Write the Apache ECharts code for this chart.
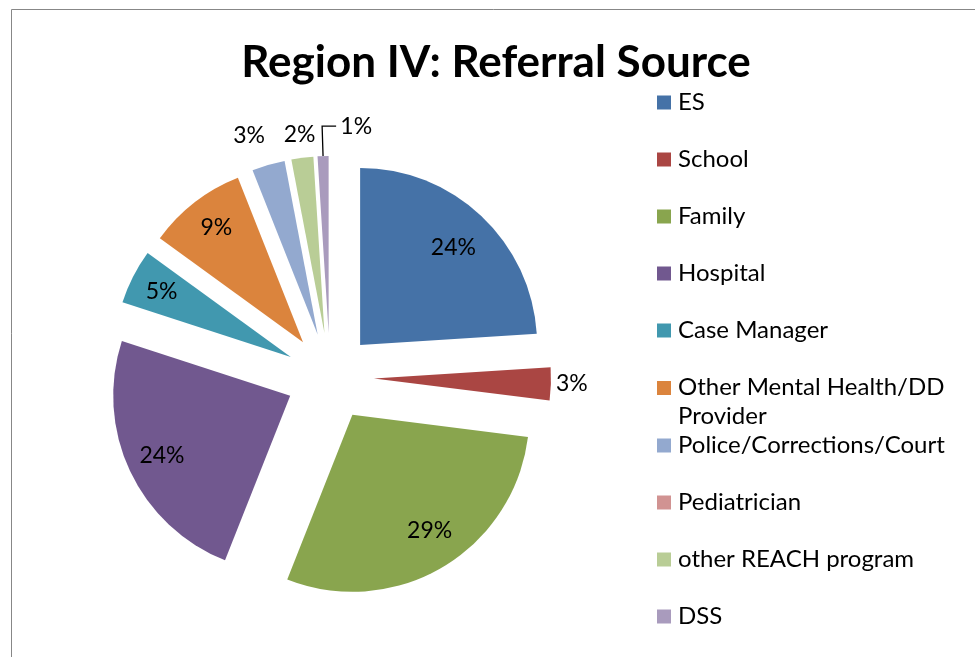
<!DOCTYPE html>
<html>
<head>
<meta charset="utf-8">
<script src="https://cdn.jsdelivr.net/npm/echarts@6/dist/echarts.min.js"></script>
<style>
  html, body { margin: 0; padding: 0; background: #fff; }
  #chart { width: 975px; height: 657px; }
</style>
</head>
<body>
<div id="chart"></div>
<script>
// data (percent of referrals)
var categories = ['ES', 'School', 'Family', 'Hospital', 'Case Manager',
  'Other Mental Health/DD Provider', 'Police/Corrections/Court',
  'Pediatrician', 'other REACH program', 'DSS'];
var percents = [24, 3, 29, 24, 5, 9, 3, 0, 2, 1];
var colors = ['#4572A7', '#AA4643', '#89A54E', '#71588F', '#4198AF',
  '#DB843D', '#93A9CF', '#D19392', '#B9CD96', '#A99BBD'];

// label placement per slice (negative length pulls the label back inside the slice)
var labelPlacement = {
  'ES': { len: -43, len2: 0, dist: -21 },
  'School': { len: 0, len2: 0, dist: 5 },
  'Family': { len: -42, len2: 7, dist: -21 },
  'Hospital': { len: -37, len2: 0, dist: -21 },
  'Case Manager': { len: -33, len2: 0, dist: -15 },
  'Other Mental Health/DD Provider': { len: -32, len2: -3, dist: -15 },
  'Police/Corrections/Court': { len: 30, len2: -10, dist: 5 },
  'other REACH program': { len: 23, len2: -21, dist: 5 },
  'DSS': { len: 30, len2: -14, dist: -36, line: true, pad: [0, 0, 14, 0] }
};

var FONT = 'Lato';
var center = [330, 377];
var R = 177;
var explode = 44;

var myChart = echarts.init(document.getElementById('chart'));

var sliceData = categories.map(function (name, i) {
  var item = { name: name, value: percents[i], selected: true, itemStyle: { color: colors[i] } };
  var o = labelPlacement[name];
  if (o) {
    item.label = {
      show: true, position: 'outside', formatter: '{d}%',
      distanceToLabelLine: o.dist, padding: o.pad || 0
    };
    item.labelLine = {
      show: !!o.line, length: o.len, length2: o.len2,
      minTurnAngle: 1, maxSurfaceAngle: 180,
      lineStyle: { color: '#000', width: 1.3 }
    };
  } else {
    item.label = { show: false };
  }
  return item;
});

var legendText = {
  fontFamily: FONT, fontSize: 24, color: '#000', lineHeight: 57, padding: [0, 0, 0, 2]
};

var option = {
  animation: false,
  textStyle: { fontFamily: FONT },
  title: {
    text: 'Region IV: Referral Source',
    left: 491, top: 36, textAlign: 'center',
    textStyle: { fontFamily: FONT, fontSize: 44, fontWeight: 'bold', color: '#000' }
  },
  legend: [{
    orient: 'vertical', left: 657, top: 74, padding: 0,
    itemWidth: 14, itemHeight: 14, itemGap: 0,
    icon: 'rect', data: categories.slice(0, 6),
    formatter: function (name) {
      return name === 'Other Mental Health/DD Provider' ? 'Other Mental Health/DD\n{p|Provider}' : name;
    },
    textStyle: echarts.util.extend({
      rich: { p: { fontFamily: FONT, fontSize: 24, color: '#000', lineHeight: 1 } }
    }, legendText)
  }, {
    orient: 'vertical', left: 657, top: 417, padding: 0,
    itemWidth: 14, itemHeight: 14, itemGap: 0,
    icon: 'rect', data: categories.slice(6),
    textStyle: legendText
  }],
  graphic: [{
    type: 'rect', silent: true, z: -10,
    shape: { x: 11.5, y: 9.5, width: 1000, height: 700 },
    style: { fill: 'none', stroke: '#878787', lineWidth: 1 }
  }],
  series: [{
    name: 'Referral Source', type: 'pie', center: center, radius: R,
    startAngle: 90, clockwise: true,
    selectedMode: 'multiple', selectedOffset: explode,
    avoidLabelOverlap: false,
    label: { fontFamily: FONT, fontSize: 23, color: '#000' },
    labelLine: { show: false },
    emphasis: { scale: false },
    data: sliceData
  }]
};
myChart.setOption(option);
</script>
</body>
</html>
